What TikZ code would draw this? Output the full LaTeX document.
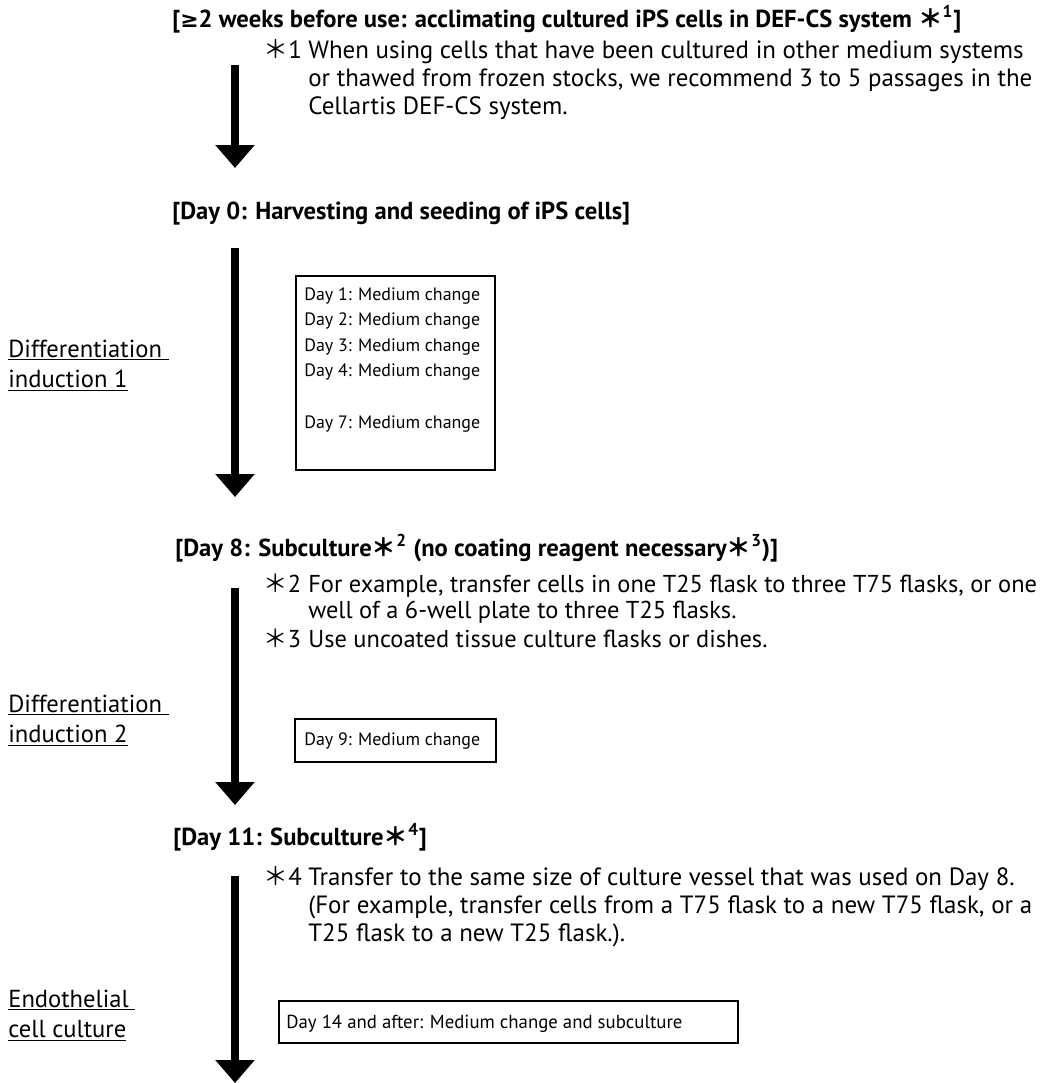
\documentclass[tikz,border=0pt]{standalone}
\usepackage{fontspec}
\setmainfont{PT Sans}
\newfontfamily\cjk{Noto Sans CJK JP}
\newfontfamily\symfont{DejaVu Sans}
\usetikzlibrary{arrows.meta}

\newcommand{\nstar}{{\cjk ＊}}
\newcommand{\fnref}[1]{\nstar\textsuperscript{#1}}
\newcommand{\lines}[1]{\begin{tabular}[t]{@{}l@{}}#1\end{tabular}}

\tikzset{
  heading/.style={anchor=base west, inner sep=0, font=\bfseries\fontsize{14}{16}\selectfont},
  note/.style={anchor=base west, inner sep=0, font=\fontsize{14.2}{16}\selectfont},
  smallnote/.style={note, font=\fontsize{13.9}{15.2}\selectfont},
  flow/.style={line width=0.16cm, -{Triangle[width=0.76cm,length=0.46cm]}},
  daybox/.style={draw, line width=0.04cm, anchor=north west, inner sep=0},
  daytext/.style={anchor=base west, inner sep=0, font=\fontsize{10.2}{14.6}\selectfont},
  phase/.style={anchor=base west, inner sep=0, font=\fontsize{14}{17.6}\selectfont}
}

\begin{document}
\begin{tikzpicture}[x=0.02cm, y=-0.02cm]
  \useasboundingbox (0,0) rectangle (1042,1083);

  % Heading: acclimating
  \node[heading] (h1) at (172,27) {[{\symfont\fontsize{12.5}{14}\selectfont ≥}2 weeks before use: acclimating cultured iPS cells in DEF-CS system {\cjk\bfseries ＊}\textsuperscript{1}]};

  % Note 1
  \node[note] (n1s) at (263,58) {\nstar1};
  \node[note] (n1) at (308,58) {\lines{When using cells that have been cultured in other medium systems\\
    or thawed from frozen stocks, we recommend 3 to 5 passages in the\\
    Cellartis DEF-CS system.}};

  % Arrow 1
  \coordinate (a1s) at (235,65);
  \coordinate (a1e) at (235,168);
  \draw[flow] (a1s) -- (a1e);

  % Heading: Day 0
  \node[heading] (h2) at (172,219) {[Day 0: Harvesting and seeding of iPS cells]};

  % Arrow 2 and box of days 1-7
  \coordinate (a2s) at (235,248);
  \coordinate (a2e) at (235,497);
  \draw[flow] (a2s) -- (a2e);
  \node[daybox, minimum width=3.98cm, minimum height=3.88cm] (b1) at (295,275) {};
  \node[daytext] (b1t) at (304,300) {\lines{Day 1: Medium change\\
    Day 2: Medium change\\
    Day 3: Medium change\\
    Day 4: Medium change\\[14.6pt]
    Day 7: Medium change}};
  \node[phase] (p1) at (8,357) {\lines{\underline{Differentiation\ }\\ \underline{induction 1}}};

  % Heading: Day 8
  \node[heading] (h3) at (175,556) {[Day 8: Subculture\fnref{2} (no coating reagent necessary\fnref{3})]};

  % Notes 2 and 3
  \node[smallnote] (n2s) at (263,592) {\nstar2};
  \node[smallnote] (n2) at (308,592) {\lines{For example, transfer cells in one T25 flask to three T75 flasks, or one\\
    well of a 6-well plate to three T25 flasks.}};
  \node[smallnote] (n3s) at (263,647) {\nstar3};
  \node[smallnote] (n3) at (308,647) {Use uncoated tissue culture flasks or dishes.};

  % Arrow 3 and box of day 9
  \coordinate (a3s) at (235,588);
  \coordinate (a3e) at (235,805);
  \draw[flow] (a3s) -- (a3e);
  \node[daybox, minimum width=4.02cm, minimum height=0.86cm] (b2) at (294,718) {};
  \node[daytext] (b2t) at (304,745) {Day 9: Medium change};
  \node[phase] (p2) at (8,712) {\lines{\underline{Differentiation\ }\\ \underline{induction 2}}};

  % Heading: Day 11
  \node[heading] (h4) at (173,845) {[Day 11: Subculture\fnref{4}]};

  % Note 4
  \node[note] (n4s) at (263,885) {\nstar4};
  \node[note] (n4) at (308,885) {\lines{Transfer to the same size of culture vessel that was used on Day 8.\\
    (For example, transfer cells from a T75 flask to a new T75 flask, or a\\
    T25 flask to a new T25 flask.).}};

  % Arrow 4 and box of day 14
  \coordinate (a4s) at (235,876);
  \coordinate (a4e) at (235,1083);
  \draw[flow] (a4s) -- (a4e);
  \node[daybox, minimum width=9.18cm, minimum height=0.84cm] (b3) at (278,1000) {};
  \node[daytext, font=\fontsize{10.7}{13}\selectfont] (b3t) at (286,1028) {Day 14 and after: Medium change and subculture};
  \node[phase] (p3) at (8,1007) {\lines{\underline{Endothelial\ }\\ \underline{cell culture}}};
\end{tikzpicture}
\end{document}
